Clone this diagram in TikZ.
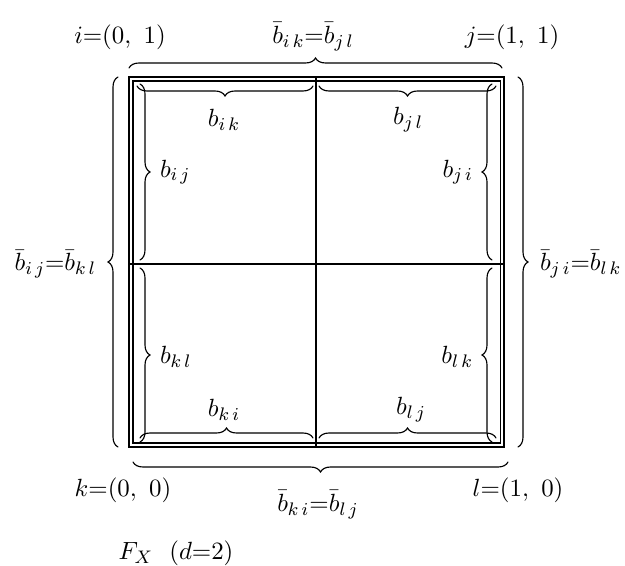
\documentclass[tikz,border=0pt]{standalone}
\usepackage{amsmath,amssymb}
\usetikzlibrary{decorations.pathreplacing}

\begin{document}
\begin{tikzpicture}[x=0.44pt,y=-0.44pt,line cap=round,
  font=\fontsize{11}{13}\selectfont,
  brc/.style={decorate,decoration={brace,amplitude=4.4pt},line width=0.5pt},
  frame/.style={line width=0.7pt}]
\useasboundingbox (0,0) rectangle (625,565);
% square with double border
\coordinate (nw) at (129,77);
\coordinate (se) at (504,447);
\coordinate (inw) at (133,81);
\coordinate (ise) at (500,443);
\coordinate (mt) at (316,77);
\coordinate (mb) at (316,447);
\coordinate (ml) at (129,264);
\coordinate (mr) at (504,264);
\draw[frame] (nw) rectangle (se);
\draw[line width=0.45pt] (inw) rectangle (ise);
\draw[line width=0.5pt] (mt) -- (mb);
\draw[line width=0.5pt] (ml) -- (mr);
% inner braces
\draw[brc] (313,86) -- (137,86);
\draw[brc] (496,86) -- (319,86);
\draw[brc] (140,84) -- (140,260);
\draw[brc] (140,268) -- (140,442);
\draw[brc] (492,260) -- (492,84);
\draw[brc] (492,442) -- (492,268);
\draw[brc] (140,438) -- (313,438);
\draw[brc] (319,438) -- (496,438);
% outer braces
\draw[brc] (129,68) -- (502,68);
\draw[brc] (508,462) -- (133,462);
\draw[brc] (118,447) -- (118,77);
\draw[brc] (518,77) -- (518,447);
% labels
\node (bik) at (224,120) {$b_{i\,k}$};
\node (bjl) at (408,120) {$b_{j\,l}$};
\node[right] (bij) at (152,172) {$b_{i\,j}$};
\node[right] (bkl) at (152,357) {$b_{k\,l}$};
\node[left] (bji) at (481,172) {$b_{j\,i}$};
\node[left] (blk) at (481,357) {$b_{l\,k}$};
\node (bki) at (224,410) {$b_{k\,i}$};
\node (blj) at (411,410) {$b_{l\,j}$};
\node (top) at (313,37) {$\bar{b}_{i\,k}{=}\bar{b}_{j\,l}$};
\node[left] (lft) at (104,264) {$\bar{b}_{i\,j}{=}\bar{b}_{k\,l}$};
\node[right] (rgt) at (532,264) {$\bar{b}_{j\,i}{=}\bar{b}_{l\,k}$};
\node (bot) at (318,505) {$\bar{b}_{k\,i}{=}\bar{b}_{l\,j}$};
\node (ci) at (120,37) {$i{=}(0,\ 1)$};
\node (cj) at (512,37) {$j{=}(1,\ 1)$};
\node (ck) at (123,490) {$k{=}(0,\ 0)$};
\node (cl) at (518,490) {$l{=}(1,\ 0)$};
\node (cap) at (176,553) {$F_X\ \ (d{=}2)$};
\end{tikzpicture}
\end{document}
